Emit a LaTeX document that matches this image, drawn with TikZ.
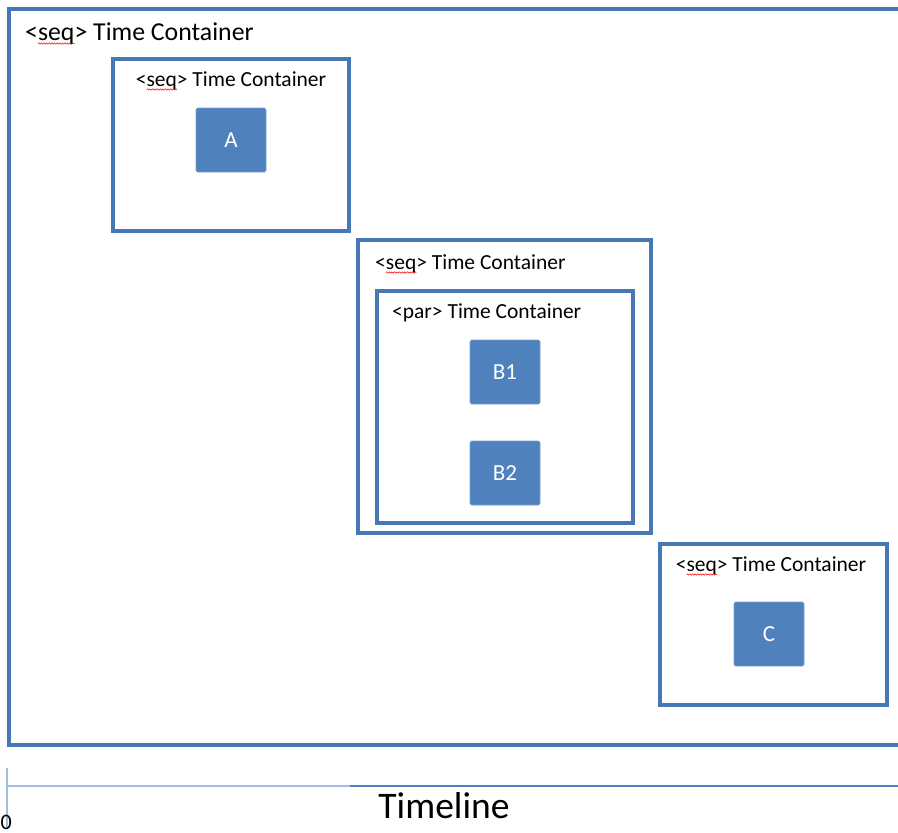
\documentclass[tikz,border=0pt]{standalone}
\usepackage{fontspec}
\setmainfont{Carlito}
\usepackage{tikz}
\usetikzlibrary{positioning, decorations.pathmorphing}
\definecolor{officeblue}{RGB}{79,129,189}
\definecolor{officeedge}{RGB}{70,120,182}
\definecolor{tickblue}{RGB}{160,190,225}

% red wavy spell-check line under a word
\newsavebox\spellbox
\newcommand\spellmark[1]{\sbox\spellbox{#1}\usebox\spellbox\tikz[overlay, x=1pt, y=1pt]\draw[red, line width=0.5pt, decorate, decoration={snake, amplitude=0.7pt, segment length=2.6pt}] (-\wd\spellbox,-3.5pt) -- (0pt,-3.5pt);}

\begin{document}
\begin{tikzpicture}[x=1pt, y=-1pt]
        \tikzstyle{container} = [rectangle, draw=officeedge, line width=3.5pt, inner sep=0pt, outer sep=0pt]
        \tikzstyle{item} = [rectangle, rounded corners=1.5pt, fill=officeblue, draw=officeblue!75!white, line width=0.6pt, minimum width=70pt, minimum height=64pt, text=white, font=\fontsize{23}{27}\selectfont]
        \tikzstyle{bigcaption} = [inner sep=0pt, font=\fontsize{25.8}{30}\selectfont]
        \tikzstyle{caption} = [inner sep=0pt, font=\fontsize{21.5}{26}\selectfont]

        \useasboundingbox (0,0) rectangle (898,833);
        \clip (0,0) rectangle (898,833);

        % containers
        \node (outer) [container, minimum width=897pt, minimum height=736pt] at (457.5,377) {};
        \node (seqA) [container, minimum width=236pt, minimum height=172pt] at (231,145) {};
        \node (seqB) [container, minimum width=293pt, minimum height=293pt] at (504.5,386.5) {};
        \node (parB) [container, minimum width=256pt, minimum height=232pt] at (505,407) {};
        \node (seqC) [container, minimum width=227pt, minimum height=161pt] at (773.5,624.5) {};

        % captions
        \node (outerlbl) [bigcaption, anchor=base west] at ([xshift=16pt, yshift=-31pt]outer.north west) {<\spellmark{seq}> Time Container};
        \node (seqAlbl) [caption, anchor=base] at ([yshift=-27pt]seqA.north) {<\spellmark{seq}> Time Container};
        \node (seqBlbl) [caption, anchor=base west] at ([xshift=17pt, yshift=-29pt]seqB.north west) {<\spellmark{seq}> Time Container};
        \node (parBlbl) [caption, anchor=base west] at ([xshift=15pt, yshift=-27pt]parB.north west) {<par> Time Container};
        \node (seqClbl) [caption, anchor=base] at ([xshift=-2.5pt, yshift=-27pt]seqC.north) {<\spellmark{seq}> Time Container};

        % media items
        \node (a) [item] at (231,140) {A};
        \node (b1) [item] at (505,372) {B1};
        \node (b2) [item] at (505,473) {B2};
        \node (c) [item] at (769,634) {C};

        % timeline
        \coordinate (ticktop) at (7,768);
        \coordinate (tickbot) at (7,828);
        \coordinate (t0) at (7,786);
        \coordinate (tmid) at (350,786);
        \coordinate (t1) at (898,786);
        \draw [tickblue, line width=1.2pt] (ticktop) -- (tickbot);
        \draw [tickblue, line width=1.4pt] (t0) -- (tmid);
        \draw [officeblue, line width=1.4pt] (tmid) -- (t1);
        \node (zero) [inner sep=0pt, anchor=base west, font=\fontsize{22}{26}\selectfont] at (0.5,829) {0};
        \node (timeline) [inner sep=0pt, anchor=base, font=\fontsize{37.5}{44}\selectfont] at (444,818) {Timeline};
    \end{tikzpicture}
\end{document}
